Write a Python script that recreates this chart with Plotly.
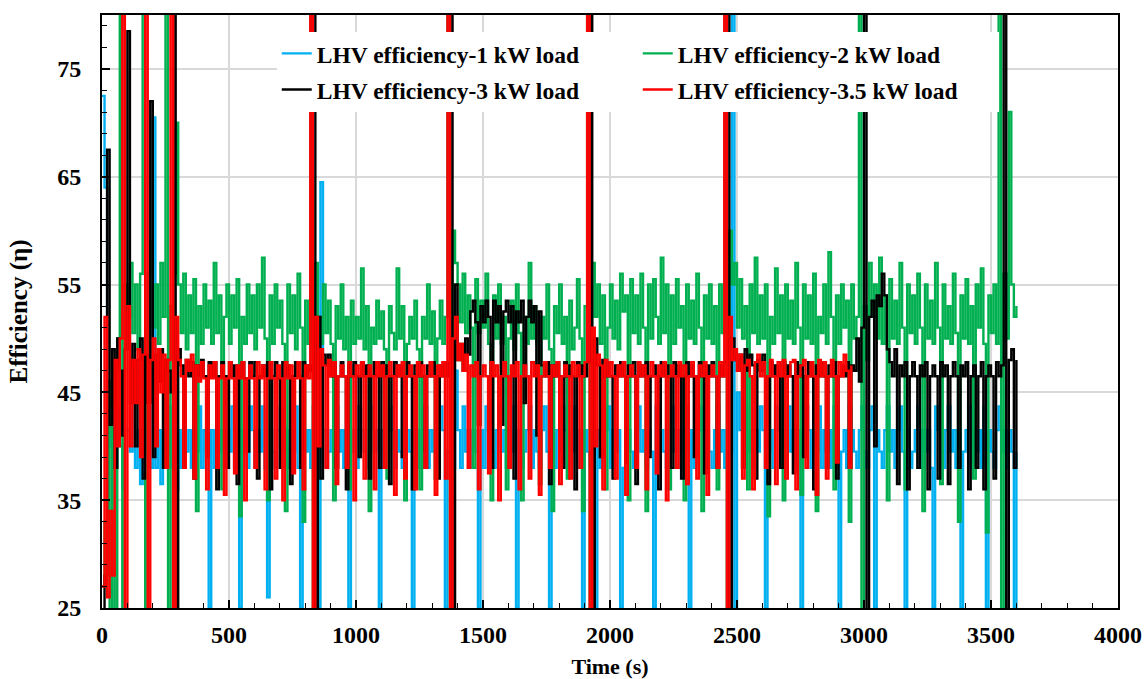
import plotly.graph_objects as go

time_full = list(range(0, 3601, 10))   # 1, 2 and 3 kW runs
time_red = list(range(0, 2951, 10))    # 3.5 kW run ends earlier

eff_1kw = [
    72.5, 64, 44, 40, 41.5, 38, 43.7, 40, 36, 41.5,
    41.5, 39.5, 44, 38, 41.5, 36.5, 41.5, 39.5, 43.7, 38,
    70.5, 38, 41.5, 36.5, 41.5, 39.5, 43.7, 38, 41.5, 36,
    41.5, 38, 43.7, 39.5, 41.5, 38, 41.5, 39.5, 43.7, 38,
    41.5, 39.5, 25, 41.5, 38, 43.7, 39.5, 41.5, 38, 41.5,
    39.5, 43.7, 38, 41.5, 25, 41.5, 39.5, 38, 43.7, 41.5,
    38, 41.5, 39.5, 43.7, 38, 26, 41.5, 39.5, 38, 41.5,
    43.7, 39.5, 41.5, 38, 41.5, 39.5, 43.7, 38, 25, 41.5,
    39.5, 41.5, 38, 43.7, 41.5, 25, 64.5, 41.5, 38, 39.5,
    41.5, 38, 43.7, 39.5, 41.5, 38, 41.5, 25, 39.5, 41.5,
    38, 43.7, 41.5, 39.5, 38, 41.5, 43.7, 39.5, 41.5, 25,
    41.5, 38, 39.5, 43.7, 41.5, 38, 41.5, 39.5, 38, 43.7,
    41.5, 39.5, 25, 41.5, 38, 41.5, 39.5, 43.7, 38, 41.5,
    39.5, 41.5, 38, 43.7, 41.5, 25, 39.5, 41.5, 38, 47,
    41.5, 38, 43.7, 39.5, 41.5, 38, 41.5, 39.5, 25, 41.5,
    38, 43.7, 41.5, 39.5, 38, 41.5, 43.7, 39.5, 41.5, 38,
    41.5, 39.5, 43.7, 25, 41.5, 38, 39.5, 41.5, 43.7, 38,
    41.5, 39.5, 38, 41.5, 43.7, 39.5, 25, 41.5, 38, 41.5,
    39.5, 43.7, 41.5, 38, 41.5, 39.5, 43.7, 38, 41.5, 25,
    41.5, 39.5, 38, 43.7, 25, 41.5, 38, 39.5, 41.5, 43.7,
    38, 41.5, 39.5, 41.5, 25, 38, 43.7, 41.5, 39.5, 38,
    41.5, 43.7, 39.5, 41.5, 38, 41.5, 39.5, 25, 43.7, 38,
    41.5, 39.5, 38, 41.5, 43.7, 39.5, 41.5, 38, 41.5, 39.5,
    43.7, 25, 41.5, 38, 39.5, 41.5, 43.7, 38, 41.5, 39.5,
    38, 41.5, 43.7, 39.5, 41.5, 38, 41.5, 39.5, 95, 25,
    45, 41.5, 38, 43.7, 39.5, 41.5, 38, 41.5, 39.5, 43.7,
    41.5, 25, 39.5, 41.5, 38, 43.7, 41.5, 39.5, 38, 41.5,
    43.7, 39.5, 41.5, 38, 41.5, 25, 39.5, 43.7, 41.5, 38,
    41.5, 39.5, 43.7, 38, 41.5, 39.5, 41.5, 38, 43.7, 41.5,
    25, 39.5, 41.5, 38, 43.7, 41.5, 39.5, 38, 41.5, 43.7,
    39.5, 38, 41.5, 43.7, 25, 41.5, 39.5, 38, 41.5, 43.7,
    39.5, 41.5, 38, 41.5, 43.7, 39.5, 25, 41.5, 38, 39.5,
    41.5, 43.7, 38, 41.5, 39.5, 41.5, 38, 25, 43.7, 41.5,
    39.5, 38, 41.5, 43.7, 39.5, 41.5, 38, 41.5, 25, 39.5,
    41.5, 43.7, 38, 41.5, 39.5, 41.5, 38, 43.7, 25, 41.5,
    39.5, 38, 41.5, 43.7, 39.5, 41.5, 38, 41.5, 39.5, 25,
    39.5,
]

eff_2kw = [
    27, 33, 46, 22, 48, 18, 50, 100, 12, 55,
    52, 57, 50.5, 55, 49, 56, 100, 15, 56, 59,
    51, 55, 49.5, 57, 52, 100, 15, 53, 56, 70,
    55, 50.5, 56, 49, 54, 50.5, 55.5, 34, 53, 49.5,
    55, 51, 53.5, 49.5, 57, 50.5, 54, 36, 52, 55,
    49.5, 54, 51, 55.5, 33.5, 52, 49.5, 55, 50.5, 54,
    49, 55, 51, 57.5, 50, 35, 54, 49.5, 55, 51,
    53.5, 49.5, 34, 55, 50.5, 54, 49, 56, 51, 33,
    53.5, 49.5, 100, 15, 57, 52, 49.5, 55, 50.5, 53.5,
    49.5, 35, 53, 50, 55, 49, 52, 36, 53.5, 49.5,
    52, 50, 56.5, 49, 53, 34, 51, 49.5, 53.5, 50,
    52.5, 49, 37, 53, 50.5, 49, 56.5, 50, 53, 35,
    49.5, 52, 50, 53.5, 49, 36, 52, 50, 55, 49.5,
    52.5, 37, 50, 53.5, 49.5, 52, 100, 15, 60, 57,
    55, 51.5, 56, 50.5, 54, 51, 38, 55.5, 50.5, 53.5,
    51, 56, 49.5, 35, 54, 50, 55, 49.5, 52, 36,
    50, 53.5, 49, 55, 50.5, 35, 52, 49.5, 57, 50,
    53, 49.5, 36.5, 52, 50, 55, 49, 34, 53, 50.5,
    55, 49.5, 52, 37, 53.5, 49, 51, 55.5, 50, 34,
    53, 100, 12, 57, 52, 55, 49.5, 54, 36, 51,
    55, 50, 53.5, 49, 56, 52.5, 54, 35, 55.5, 50.5,
    54, 49.5, 56, 51, 34, 55, 50, 55.5, 52, 49.5,
    57.5, 50.5, 55, 36, 54, 49.5, 55.5, 51, 53, 35,
    55, 50, 53.5, 49.5, 56, 51, 34, 54, 50, 55,
    49.5, 53, 36, 55, 50.5, 100, 15, 60, 55, 57,
    51, 55.5, 50, 53, 36, 55, 50.5, 57.5, 49.5, 54,
    50, 55, 33.5, 52, 49.5, 56.5, 50.5, 54, 35, 55,
    50, 53.5, 49.5, 57, 51, 35.5, 55, 50, 54, 49.5,
    56, 34, 52, 50.5, 55, 49.5, 58, 52, 36, 54,
    49.5, 55, 51, 53.5, 33, 55, 50, 52, 100, 15,
    53, 48, 57, 52, 55, 50, 57.5, 49.5, 54, 35,
    55.5, 50, 53.5, 49.5, 57, 51, 36, 55, 50.5, 54,
    49.5, 56, 51, 34, 55, 50, 53.5, 49.5, 57, 51,
    36.5, 55, 50, 53, 49.5, 56, 50.5, 33, 54, 50,
    55.5, 49.5, 53, 37, 55, 51, 56.5, 49.5, 32, 54,
    50.5, 55, 49.5, 100, 15, 56, 50, 71, 55, 52,
    53,
]

eff_3kw = [
    22, 28, 67.5, 42, 49, 38, 50, 47, 41, 49,
    78.5, 44, 49.5, 40, 48, 50, 37, 48.5, 44, 72,
    39, 48.5, 46, 49, 38, 48, 47, 45, 100, 10,
    49, 47.5, 38, 48, 46.5, 47.8, 37, 47.5, 46.5, 48,
    46.5, 39, 47.8, 46.5, 47.8, 36, 46.5, 47.8, 46.5, 38,
    47.8, 46.5, 47.5, 36.5, 46.5, 47.8, 46.3, 39.5, 47.8, 46.5,
    47.8, 37, 46.5, 47.5, 46.5, 47.8, 36, 46.5, 47.8, 46.3,
    38, 47.8, 46.5, 47.5, 36.5, 46.5, 47.8, 46.5, 38, 47.8,
    46.5, 47.5, 47, 100, 12, 52, 37, 48.5, 47.5, 48.5,
    46.5, 47.8, 38, 46.5, 47.8, 46.5, 36, 47.5, 46.5, 47.8,
    46.5, 39, 47.8, 46.5, 47.5, 37, 46.5, 47.8, 46.5, 38,
    47.8, 46.5, 47.5, 36.5, 46.5, 47.8, 46.5, 47.5, 39, 46.5,
    47.8, 46.5, 36, 47.5, 46.5, 47.8, 46.5, 38, 47.5, 46.5,
    47.8, 46.5, 37, 47.5, 46.5, 47.8, 46.5, 100, 12, 55,
    48, 49.5, 47, 50, 48.5, 52.5, 53.5, 51.5, 42, 53,
    51.5, 53.5, 52, 38, 53.5, 51.5, 53, 42, 52.5, 53.5,
    51.5, 53, 37, 52.5, 51.5, 53.5, 44, 52, 53.5, 51.5,
    53, 41, 52.5, 47.5, 46.5, 47.8, 36.5, 47.5, 46.5, 47.8,
    46.5, 38, 47.8, 46.5, 47.5, 46.5, 36, 47.8, 46.5, 47.5,
    46.5, 47.8, 100, 12, 50, 47.5, 39, 48, 46.5, 47.8,
    46.5, 37, 47.5, 46.5, 47.8, 46.5, 38.5, 47.5, 46.5, 47.8,
    36.5, 46.5, 47.5, 46.5, 47.8, 39, 46.5, 47.5, 46.5, 36,
    47.8, 46.5, 47.5, 46.5, 38, 47.8, 46.5, 47.5, 37, 46.5,
    47.8, 46.5, 47.5, 39, 46.5, 47.8, 46.5, 37.5, 47.5, 46.5,
    47.8, 46.5, 38, 47.5, 46.5, 47.8, 100, 12, 50, 48,
    47, 48.5, 38, 49, 47, 48.5, 47.5, 37, 48, 47,
    48.5, 46.5, 36.5, 47.8, 46.5, 47.5, 46.5, 38, 47.8, 46.5,
    47.5, 46.5, 37.5, 47.8, 46.5, 47.5, 39, 46.5, 47.8, 46.5,
    36, 47.5, 46.5, 47.8, 46.5, 38, 47.5, 46.5, 47.8, 37,
    46.5, 47.5, 46.5, 47.8, 38, 47.5, 47, 50, 46, 51,
    100, 12, 52, 53.5, 40, 54, 53, 56, 54, 49,
    47.8, 46.5, 49, 36.5, 47.5, 46.5, 47.8, 36, 46.5, 47.8,
    46.5, 38, 47.5, 46.5, 47.8, 36, 46.5, 47.5, 46.5, 37,
    47.8, 46.5, 47.5, 36.5, 46.5, 47.8, 46.5, 38, 47.5, 46.5,
    47.8, 36, 46.5, 47.5, 38, 46.5, 47.8, 36, 46.5, 47.5,
    46.5, 37, 47.8, 46.5, 47.5, 100, 12, 48, 49, 38,
    48,
]

eff_35kw = [
    27, 52, 26, 34, 28, 48, 40, 50, 100, 10,
    53, 40, 48, 44, 49, 39, 48.5, 100, 10, 48,
    50, 40, 49, 45, 48.5, 38, 48, 100, 10, 52,
    48, 46.5, 38, 48, 47, 48.5, 37, 47.5, 46, 47.8,
    46.3, 36, 47.5, 46.3, 47.8, 38, 46.3, 47.5, 35.5, 46.3,
    47.8, 46.3, 37.5, 47.5, 46.3, 47.8, 35, 46.3, 47.5, 46.3,
    38, 47.8, 46.3, 47.5, 36, 46.3, 47.8, 46.3, 37, 47.5,
    46.3, 35, 47.8, 46.3, 47.5, 37.5, 46.3, 47.8, 46.3, 36,
    47.5, 46.3, 100, 10, 52, 40, 49, 47.5, 38, 48,
    46.5, 47.8, 36.5, 46.5, 47.5, 46.5, 38, 47.8, 46.5, 35,
    47.5, 46.5, 47.8, 37, 46.5, 47.5, 46.5, 36, 47.8, 46.5,
    47.5, 38, 46.5, 47.8, 46.5, 35.5, 47.5, 46.5, 47.8, 37,
    46.5, 47.5, 46.5, 36, 47.8, 46.5, 47.5, 38, 46.5, 47.8,
    46.5, 35.5, 47.5, 46.5, 47.8, 37, 100, 10, 50, 52,
    48, 49.5, 47, 48.5, 38, 47.5, 46.5, 47.8, 36, 46.5,
    47.5, 46.5, 37.5, 47.8, 46.5, 47.5, 35, 46.5, 47.8, 46.5,
    38, 47.5, 46.5, 47.8, 36, 46.5, 47.5, 46.5, 37, 47.8,
    46.5, 47.5, 35.5, 46.5, 47.8, 46.5, 38, 47.5, 46.5, 47.8,
    36.5, 46.5, 47.5, 46.5, 37, 47.8, 46.5, 47.5, 38, 46.5,
    47.8, 100, 10, 51, 40, 48.5, 47.5, 36, 48, 46.5,
    47.8, 46.5, 37, 47.5, 46.5, 47.8, 35.5, 46.5, 47.5, 46.5,
    38, 47.8, 46.5, 47.5, 36, 46.5, 47.8, 46.5, 37.5, 47.5,
    46.5, 47.8, 35, 46.5, 47.5, 46.5, 38, 47.8, 46.5, 47.5,
    36.5, 46.5, 47.8, 46.5, 37, 47.5, 46.5, 47.8, 35.5, 46.5,
    47.5, 46.5, 38, 47.8, 46.5, 100, 10, 52, 48, 49,
    47, 48.5, 37, 47.5, 48, 46.5, 36, 47.8, 48.5, 46.5,
    47.8, 38, 46.5, 48, 46.5, 36.5, 47.8, 46.5, 48, 37,
    46.5, 47.8, 48, 36, 46.5, 47.5, 48, 38, 46.5, 47.8,
    46.5, 35.5, 48, 46.5, 47.8, 37, 46.5, 48, 46.5, 38.5,
    47.8, 46.5, 48.5, 47, 38, 47.5,
]

series_names = [
    "LHV efficiency-1 kW load",
    "LHV efficiency-2 kW load",
    "LHV efficiency-3 kW load",
    "LHV efficiency-3.5 kW load",
]
series_colors = ["#00B0F0", "#00B050", "#000000", "#FF0000"]

x_ticks = [0, 500, 1000, 1500, 2000, 2500, 3000, 3500, 4000]
y_ticks = [25, 35, 45, 55, 65, 75]

# ---------------- figure ----------------
FONT = "Liberation Serif"
fig = go.Figure()

series = [
    (time_full, eff_1kw, "legend"),
    (time_full, eff_2kw, "legend"),
    (time_full, eff_3kw, "legend2"),
    (time_red, eff_35kw, "legend2"),
]
for (xs, ys, lg), name, col in zip(series, series_names, series_colors):
    fig.add_trace(go.Scatter(
        x=xs, y=ys, mode="lines", name=name,
        line=dict(color=col, width=2.4, shape="hv"),
        legend=lg,
    ))

legend_common = dict(
    orientation="h", xanchor="left", yanchor="top",
    entrywidth=316, entrywidthmode="pixels",
    bgcolor="white", borderwidth=0, itemwidth=30,
    font=dict(family=FONT, size=23.5, color="black", weight="bold"),
    tracegroupgap=0,
)

axis_font = dict(family=FONT, size=24, color="black", weight="bold")

fig.update_layout(
    width=1147, height=679,
    margin=dict(l=102, r=29, t=15, b=71, autoexpand=False),
    paper_bgcolor="white", plot_bgcolor="white",
    showlegend=True,
    legend=dict(x=0.172, y=0.972, **legend_common),
    legend2=dict(x=0.172, y=0.911, **legend_common),
    xaxis=dict(
        range=[0, 4000], tickvals=x_ticks,
        showgrid=True, gridcolor="#D9D9D9", gridwidth=1.5,
        showline=True, linecolor="black", linewidth=2, mirror=True,
        ticks="inside", ticklen=8, tickwidth=1.5, tickcolor="black",
        minor=dict(dtick=100, tick0=0, ticks="inside", ticklen=5,
                   tickwidth=1.2, tickcolor="black", showgrid=False),
        tickfont=axis_font, ticklabelstandoff=4,
        zeroline=False, automargin=False,
        title=dict(text="Time (s)", font=dict(family=FONT, size=22, color="black", weight="bold"),
                   standoff=16),
    ),
    yaxis=dict(
        range=[25, 80], tickvals=y_ticks,
        showgrid=True, gridcolor="#D9D9D9", gridwidth=1.5,
        showline=True, linecolor="black", linewidth=2, mirror=True,
        ticks="inside", ticklen=8, tickwidth=1.5, tickcolor="black",
        minor=dict(dtick=2, tick0=25, ticks="inside", ticklen=5,
                   tickwidth=1.2, tickcolor="black", showgrid=False),
        tickfont=axis_font, ticklabelstandoff=14,
        zeroline=False, automargin=False,
        title=dict(text="Efficiency (η)", font=dict(family=FONT, size=25, color="black", weight="bold"),
                   standoff=22),
    ),
)

fig.write_html("out.html")
